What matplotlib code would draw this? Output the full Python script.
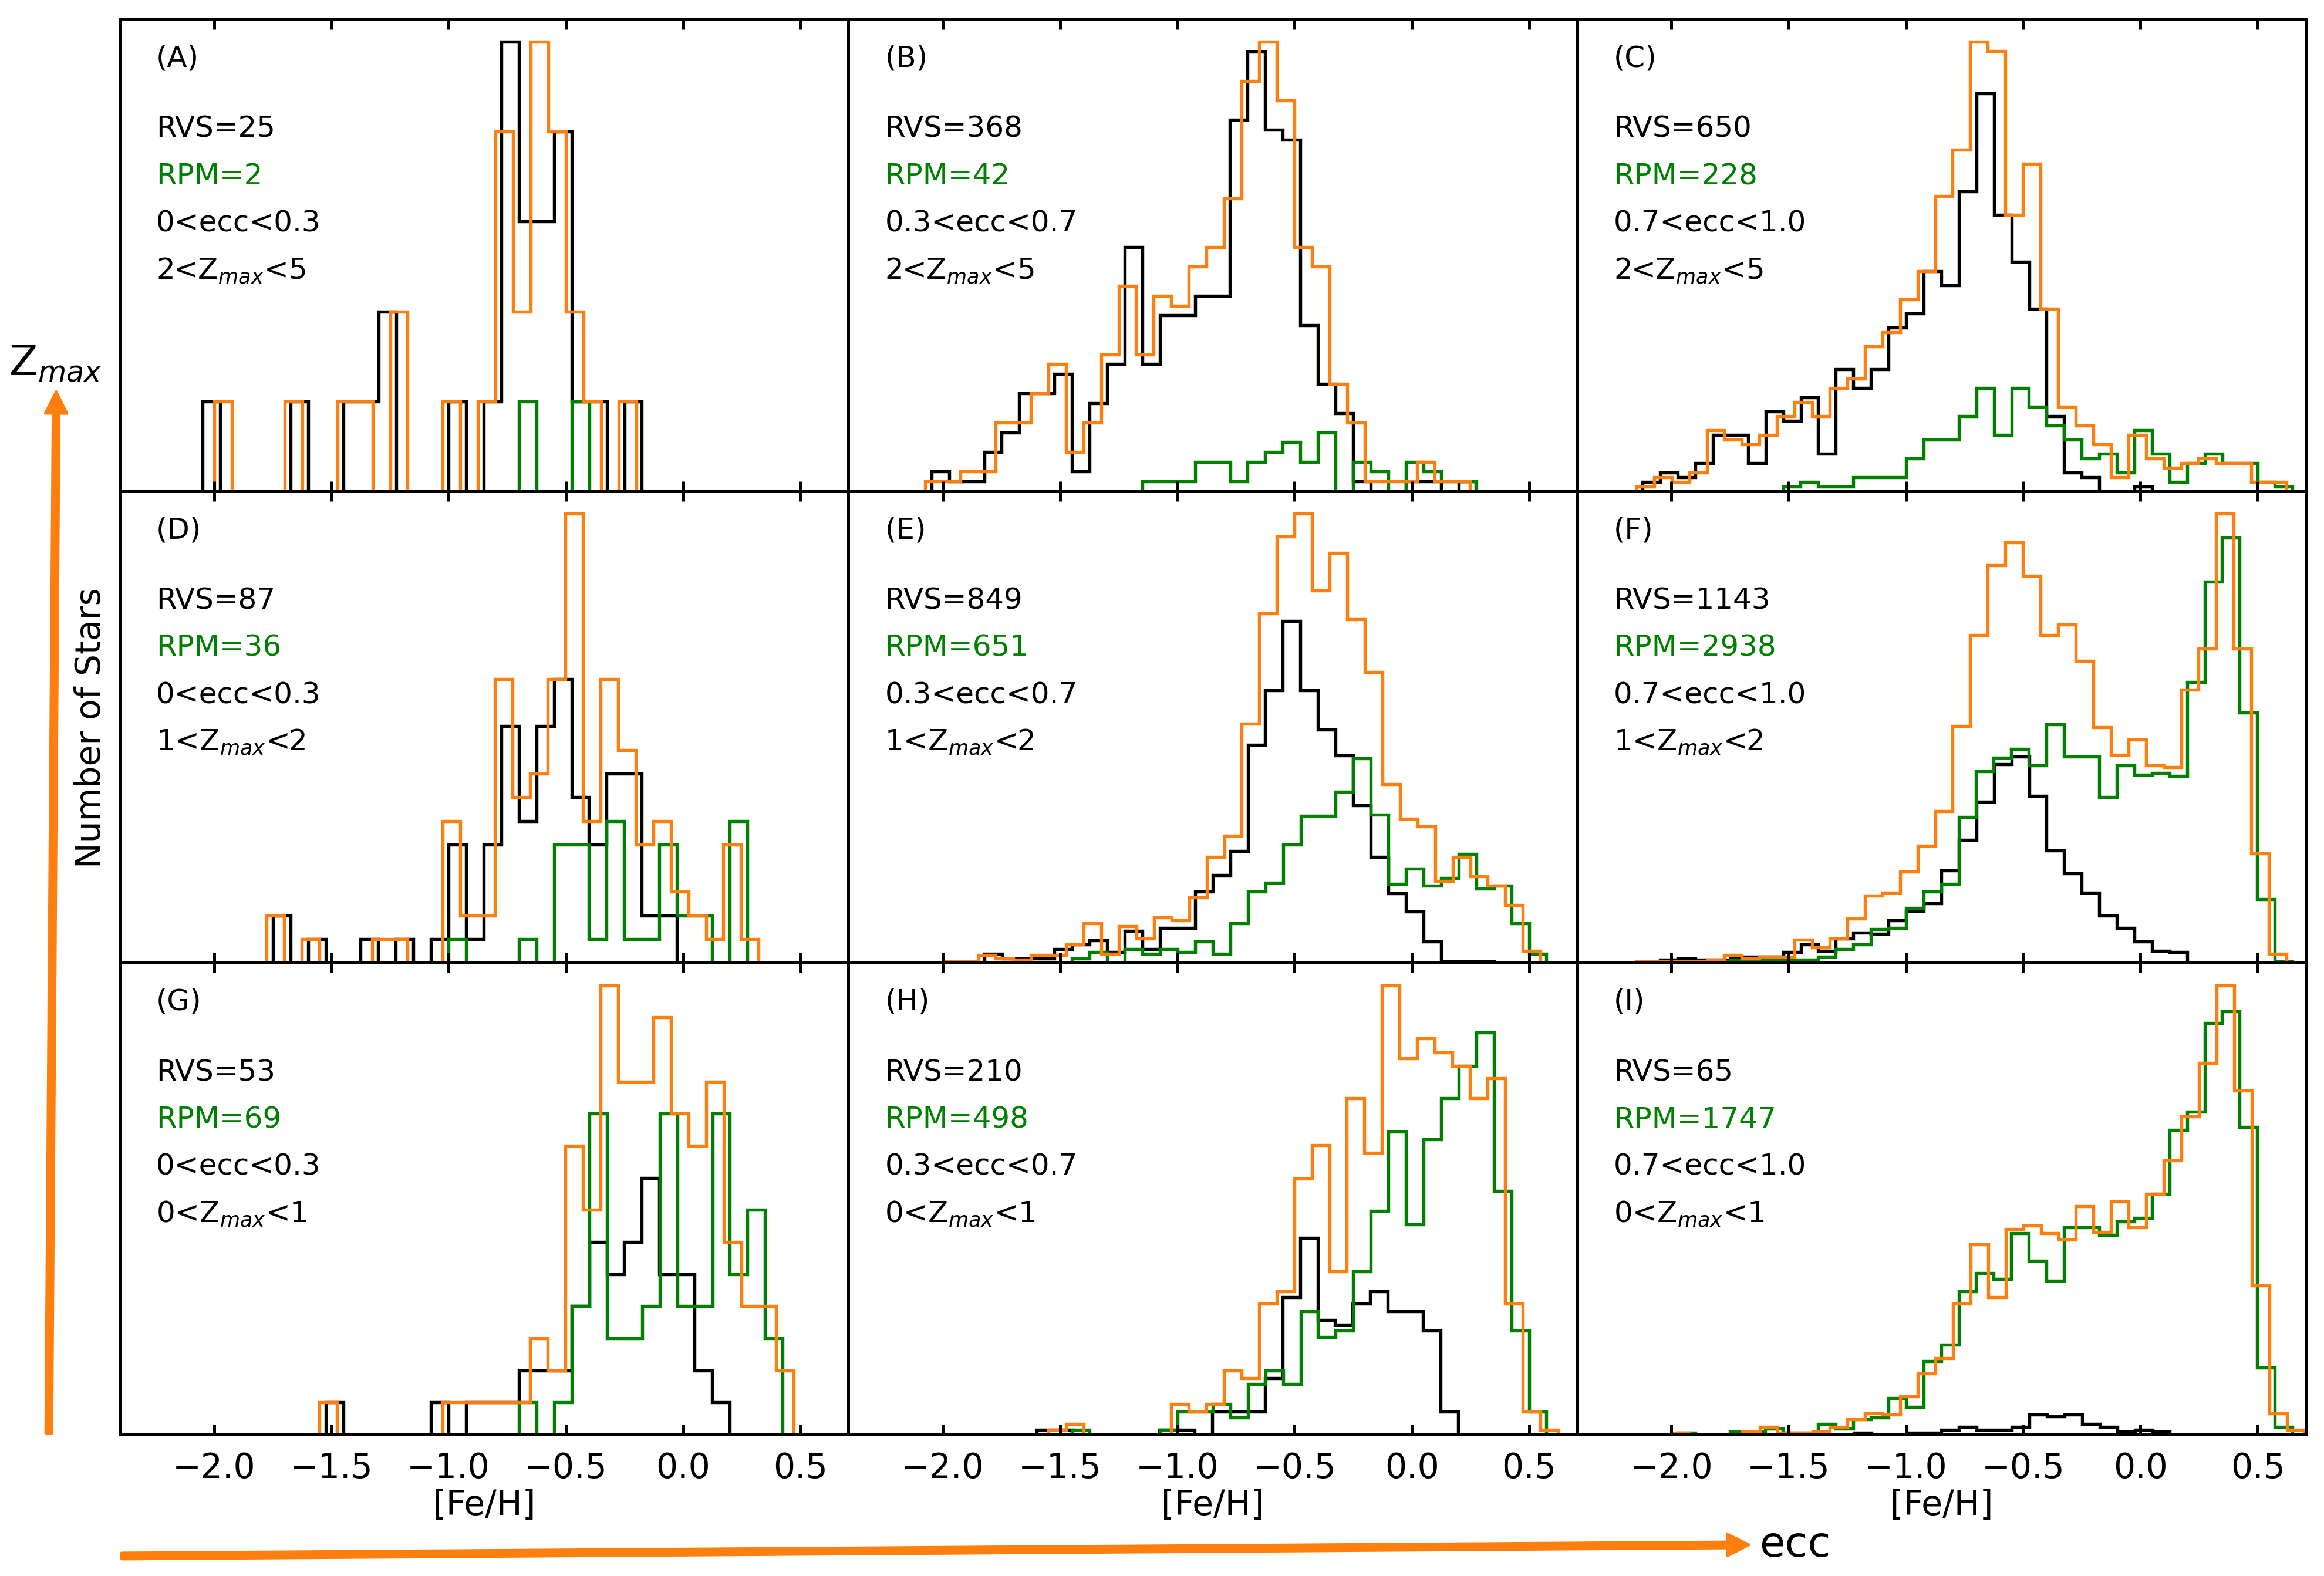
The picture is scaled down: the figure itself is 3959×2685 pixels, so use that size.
"""
[Fe/H] distributions of RVS / RPM / combined samples in 3x3 bins of
eccentricity (columns) and Z_max (rows).
"""

import numpy as np
import matplotlib
matplotlib.use("Agg")
import matplotlib.pyplot as plt
from matplotlib.patches import FancyArrowPatch

# ── Data: histogram heights ───────────────────────────────────────────────────
# each series: left edge of its first bin in [Fe/H], then bin heights
BIN_W = 0.0749

# (A) 0<ecc<0.3, 2<Zmax<5
a_rvs_lo = -2.048
a_rvs    = [1, 0, 0, 0, 0, 1, 0, 0, 1, 1, 2, 0, 0, 0, 1, 0, 1, 5, 3, 3, 4, 1, 1, 0, 1]
a_rpm_lo = -0.699
a_rpm    = [1, 0, 0, 1]
a_all_lo = -1.998
a_all    = [1, 0, 0, 0, 1, 0, 0, 1, 1, 0, 2, 0, 0, 1, 0, 1, 4, 2, 5, 4, 2, 1, 0, 1]

# (B) 0.3<ecc<0.7, 2<Zmax<5
b_rvs_lo = -2.048
b_rvs    = [2, 1, 1, 4, 6, 10, 10, 12, 2, 9, 13, 25, 13, 18, 18, 20, 20, 38, 45, 37,
            36, 17, 11, 8, 1, 0, 0, 1, 1, 0, 1]
b_rpm_lo = -1.149
b_rpm    = [1, 1, 1, 3, 3, 1, 3, 4, 5, 3, 6, 0, 3, 2, 0, 3, 2, 1, 1]
b_all_lo = -2.074
b_all    = [1, 1, 2, 2, 7, 7, 10, 13, 4, 7, 14, 21, 14, 20, 19, 23, 25, 30, 42, 46,
            40, 25, 23, 11, 7, 1, 1, 1, 3, 1, 1]

# (C) 0.7<ecc<1.0, 2<Zmax<5
c_rvs_lo = -2.123
c_rvs    = [2, 4, 3, 6, 12, 12, 6, 17, 15, 20, 8, 26, 22, 26, 35, 38, 47, 44, 64, 85,
            59, 49, 39, 16, 4, 3, 0, 0, 1]
c_rpm_lo = -1.524
c_rpm    = [1, 2, 1, 1, 3, 3, 3, 7, 11, 11, 16, 22, 12, 22, 18, 14, 11, 7, 8, 4,
            13, 8, 2, 6, 8, 6, 6, 2, 1]
c_all_lo = -2.149
c_all    = [1, 3, 2, 4, 13, 11, 10, 12, 16, 19, 16, 22, 24, 31, 34, 41, 47, 63, 73, 96,
            94, 59, 70, 39, 18, 14, 10, 3, 12, 7, 5, 6, 7, 6, 6, 2, 2]

# (D) 0<ecc<0.3, 1<Zmax<2
d_rvs_lo = -1.749
d_rvs    = [2, 0, 1, 0, 0, 1, 0, 1, 0, 1, 5, 1, 5, 10, 6, 10, 12, 7, 5, 8, 8, 2, 2]
d_rpm_lo = -1.000
d_rpm    = [1, 0, 0, 0, 1, 0, 5, 5, 1, 6, 1, 1, 5, 2, 2, 0, 6]
d_all_lo = -1.775
d_all    = [2, 0, 1, 0, 0, 0, 1, 1, 0, 0, 6, 2, 2, 12, 7, 8, 12, 19, 6, 12,
            9, 5, 6, 3, 2, 1, 5, 1]

# (E) 0.3<ecc<0.7, 1<Zmax<2
e_rvs_lo = -1.823
e_rvs    = [6, 3, 3, 3, 9, 12, 15, 7, 21, 9, 23, 23, 47, 58, 74, 144, 180, 226, 180, 154,
            137, 104, 70, 46, 34, 14, 1, 1, 1]
e_rpm_lo = -1.448
e_rpm    = [3, 7, 0, 9, 6, 9, 7, 14, 6, 26, 47, 53, 78, 97, 97, 113, 135, 98, 52, 62,
            51, 56, 72, 49, 51, 26, 6]
e_all_lo = -1.998
e_all    = [1, 1, 5, 3, 2, 5, 5, 12, 26, 6, 24, 16, 30, 28, 43, 70, 84, 158, 231, 282,
            297, 246, 271, 227, 192, 118, 95, 90, 54, 70, 57, 51, 38, 8]

# (F) 0.7<ecc<1.0, 1<Zmax<2
f_rvs_lo = -2.123
f_rvs    = [1, 2, 3, 2, 2, 4, 4, 4, 7, 12, 8, 16, 20, 19, 28, 34, 39, 61, 81, 106,
            131, 136, 110, 74, 59, 46, 31, 23, 14, 8, 7]
f_rpm_lo = -1.974
f_rpm    = [1, 1, 1, 2, 2, 2, 2, 2, 4, 9, 12, 22, 23, 36, 47, 52, 96, 126, 135, 141,
            130, 157, 136, 136, 109, 130, 124, 125, 123, 185, 251, 280, 165, 42, 1]
f_all_lo = -2.149
f_all    = [1, 1, 1, 1, 2, 5, 3, 4, 4, 15, 10, 16, 29, 44, 46, 60, 77, 100, 156, 216,
            262, 277, 255, 216, 223, 199, 155, 137, 147, 130, 129, 180, 207, 296, 207, 72, 6]

# (G) 0<ecc<0.3, 0<Zmax<1
g_rvs_lo = -1.524
g_rvs    = [1, 0, 0, 0, 0, 0, 1, 0, 1, 1, 1, 2, 2, 2, 4, 6, 5, 6, 8, 5, 5, 2, 1]
g_rpm_lo = -0.699
g_rpm    = [1, 0, 1, 4, 10, 3, 3, 4, 10, 4, 4, 10, 5, 7, 3]
g_all_lo = -1.550
g_all    = [1, 0, 0, 0, 0, 0, 0, 1, 1, 1, 1, 1, 3, 2, 9, 7, 14, 11, 11, 13,
            10, 9, 11, 6, 4, 4, 2]

# (H) 0.3<ecc<0.7, 0<Zmax<1
h_rvs_lo = -1.600
h_rvs    = [3, 3, 0, 0, 0, 0, 0, 3, 3, 0, 15, 15, 15, 37, 90, 129, 75, 72, 86, 94,
            81, 81, 68, 15]
h_rpm_lo = -1.448
h_rpm    = [3, 0, 0, 0, 0, 3, 15, 15, 20, 11, 33, 42, 33, 81, 64, 68, 107, 147, 199, 138,
            194, 221, 242, 264, 160, 68, 15]
h_all_lo = -1.550
h_all    = [3, 7, 0, 0, 0, 0, 0, 20, 15, 20, 42, 37, 86, 94, 168, 190, 107, 221, 185, 295,
            247, 260, 251, 242, 221, 234, 86, 15, 3]

# (I) 0.7<ecc<1.0, 0<Zmax<1
i_rvs_lo = -1.223
i_rvs    = [1, 0, 0, 1, 1, 3, 5, 3, 3, 5, 13, 12, 13, 7, 5, 2, 3, 2]
i_rpm_lo = -1.974
i_rpm    = [1, 0, 0, 2, 2, 4, 1, 1, 7, 4, 10, 11, 24, 18, 48, 59, 94, 106, 102, 132,
            114, 101, 136, 136, 131, 140, 142, 158, 200, 212, 270, 278, 202, 44, 5]
i_all_lo = -1.998
i_all    = [1, 0, 0, 0, 2, 5, 1, 1, 2, 5, 10, 14, 13, 25, 40, 50, 86, 125, 90, 135,
            137, 132, 128, 150, 133, 153, 136, 158, 180, 209, 244, 295, 226, 98, 14, 3]

letters   = ["A", "B", "C", "D", "E", "F", "G", "H", "I"]
rvs_count = [25, 368, 650, 87, 849, 1143, 53, 210, 65]
rpm_count = [2, 42, 228, 36, 651, 2938, 69, 498, 1747]
ecc_text  = ["0<ecc<0.3", "0.3<ecc<0.7", "0.7<ecc<1.0"]
zmax_text = ["2<Z$_{max}$<5", "1<Z$_{max}$<2", "0<Z$_{max}$<1"]
xticks    = [-2.0, -1.5, -1.0, -0.5, 0.0, 0.5]

series = [
    (a_rvs_lo, a_rvs, a_rpm_lo, a_rpm, a_all_lo, a_all),
    (b_rvs_lo, b_rvs, b_rpm_lo, b_rpm, b_all_lo, b_all),
    (c_rvs_lo, c_rvs, c_rpm_lo, c_rpm, c_all_lo, c_all),
    (d_rvs_lo, d_rvs, d_rpm_lo, d_rpm, d_all_lo, d_all),
    (e_rvs_lo, e_rvs, e_rpm_lo, e_rpm, e_all_lo, e_all),
    (f_rvs_lo, f_rvs, f_rpm_lo, f_rpm, f_all_lo, f_all),
    (g_rvs_lo, g_rvs, g_rpm_lo, g_rpm, g_all_lo, g_all),
    (h_rvs_lo, h_rvs, h_rpm_lo, h_rpm, h_all_lo, h_all),
    (i_rvs_lo, i_rvs, i_rpm_lo, i_rpm, i_all_lo, i_all),
]

# ── Style ─────────────────────────────────────────────────────────────────────
C_RVS, C_RPM, C_ALL = "black", "green", "#ff7f0e"
LW = 1.3
TXT = 12

plt.rcParams["axes.linewidth"] = 1.2

fig, axes = plt.subplots(3, 3, figsize=(3959 / 300, 2685 / 300), dpi=300, sharex=True)
fig.subplots_adjust(left=0.0515, right=0.9922, top=0.9877, bottom=0.0898,
                    wspace=0, hspace=0)


def edges_for(lo, heights):
    return lo + BIN_W * np.arange(len(heights) + 1)


for i, ax in enumerate(axes.flat):
    row, col = divmod(i, 3)
    rvs_lo, rvs, rpm_lo, rpm, all_lo, all_ = series[i]

    # black = RVS, green = RPM, orange = combined
    ax.stairs(rvs, edges_for(rvs_lo, rvs), color=C_RVS, lw=LW)
    ax.stairs(rpm, edges_for(rpm_lo, rpm), color=C_RPM, lw=LW)
    ax.stairs(all_, edges_for(all_lo, all_), color=C_ALL, lw=LW)

    top = max(max(rvs), max(rpm), max(all_))
    ax.set_ylim(0, top * 1.05)
    ax.set_xlim(-2.402, 0.705)
    ax.set_yticks([])
    ax.set_xticks(xticks)
    ax.tick_params(axis="x", direction="in", top=True, length=4, width=1.2,
                   labelsize=14, pad=7)

    tr = ax.transAxes
    ax.text(0.05, 0.90, f"({letters[i]})", transform=tr, fontsize=TXT, va="baseline")
    ax.text(0.05, 0.75, f"RVS={rvs_count[i]}", transform=tr, fontsize=TXT, va="baseline")
    ax.text(0.05, 0.65, f"RPM={rpm_count[i]}", transform=tr, fontsize=TXT,
            va="baseline", color=C_RPM)
    ax.text(0.05, 0.55, ecc_text[col], transform=tr, fontsize=TXT, va="baseline")
    ax.text(0.05, 0.45, zmax_text[row], transform=tr, fontsize=TXT, va="baseline")

    if row == 2:
        ax.set_xlabel("[Fe/H]", fontsize=14, labelpad=1.5)

# ── Figure-level labels & arrows ──────────────────────────────────────────────
fig.text(0.039, 0.538, "Number of Stars", rotation=90, ha="center", va="center",
         fontsize=14)
fig.text(0.024, 0.762, "Z$_{max}$", ha="center", va="baseline", fontsize=17)
fig.text(0.757, 0.0197, "ecc", ha="left", va="center", fontsize=17)

arrow_style = "simple,head_length=0.9,head_width=0.9,tail_width=0.26"
for tail, tip in [((0.021, 0.0905), (0.0242, 0.7516)),
                  ((0.0523, 0.0127), (0.7527, 0.0198))]:
    arr = FancyArrowPatch(tail, tip, transform=fig.transFigure, arrowstyle=arrow_style,
                          mutation_scale=10, color=C_ALL, shrinkA=0, shrinkB=0)
    fig.add_artist(arr)

fig.savefig("out.png", dpi=300)
